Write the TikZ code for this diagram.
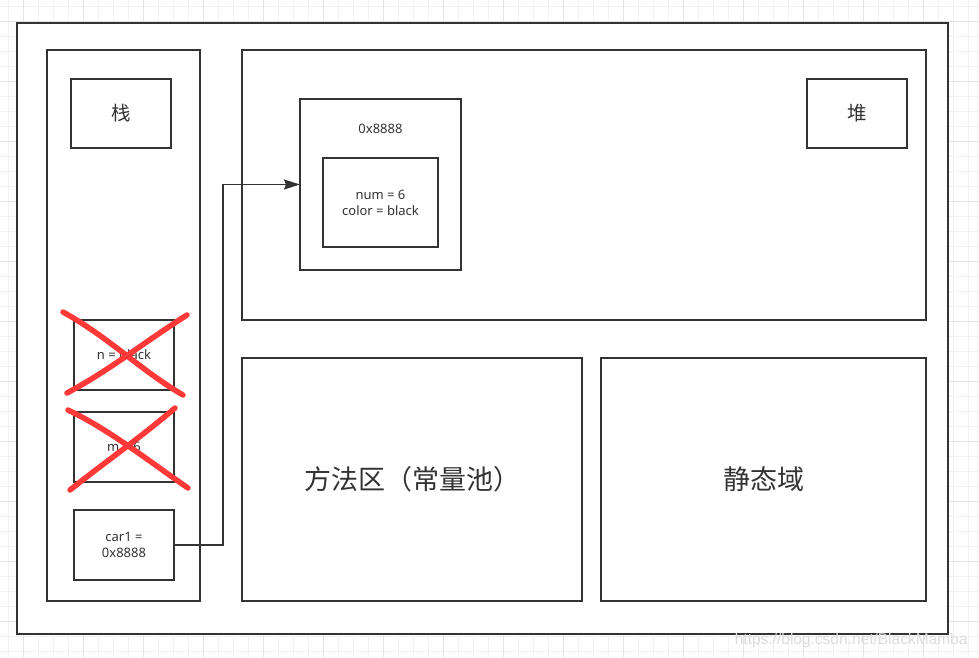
\documentclass[tikz,border=0pt]{standalone}
\usepackage{fontspec}
\setmainfont{Noto Sans CJK SC}
\newfontfamily\latinsans{Noto Sans}
\usetikzlibrary{arrows.meta}
\definecolor{edge}{HTML}{333333}
\definecolor{txt}{HTML}{333333}
\definecolor{crossred}{HTML}{FF3838}
\definecolor{gridminor}{HTML}{F2F2F2}
\definecolor{gridmajor}{HTML}{E4E4E4}
\definecolor{wm}{HTML}{DCDCDC}
\tikzset{
  box/.style={draw=edge, line width=1.8pt, fill=white, inner sep=0pt, outer sep=0pt, text=txt, align=center},
  small/.style={font=\latinsans\fontsize{13}{16}\selectfont, text=txt, align=center},
  mid/.style={font=\fontsize{19.5}{22}\selectfont, text=txt},
  big/.style={font=\fontsize{27}{30}\selectfont, text=txt},
  conn/.style={draw=edge, line width=1.8pt, -{Stealth[length=16pt,width=10pt,inset=2pt]}},
  xmark/.style={draw=crossred, line width=5.5pt, line cap=round},
}
\begin{document}
\begin{tikzpicture}[x=1pt,y=-1pt]
\useasboundingbox (0,0) rectangle (979,657);
\fill[white] (0,0) rectangle (979,657);
% grid
\foreach \i in {0,...,65} {\draw[gridminor, line width=0.8pt] ({8.3+15*\i},0) -- ({8.3+15*\i},657);}
\foreach \i in {0,...,43} {\draw[gridminor, line width=0.8pt] (0,{6.7+15*\i}) -- (979,{6.7+15*\i});}
\foreach \i in {0,...,16} {\draw[gridmajor, line width=0.8pt] ({23.3+60*\i},0) -- ({23.3+60*\i},657);}
\foreach \i in {0,...,10} {\draw[gridmajor, line width=0.8pt] (0,{21.7+60*\i}) -- (979,{21.7+60*\i});}
% outer frame
\node[box, minimum width=931pt, minimum height=611pt] (outer) at (482.5,328.5) {};
% stack
\node[box, minimum width=153pt, minimum height=551pt] (stack) at (123.5,325.5) {};
\node[box, mid, minimum width=100pt, minimum height=69pt] (zhan) at (121,113.5) {栈};
\node[box, small, minimum width=100pt, minimum height=70pt] (nblack) at (124,355) {n = black};
\node[box, small, minimum width=100pt, minimum height=70pt] (msix) at (124,447) {m = 6};
\node[box, small, minimum width=100pt, minimum height=70pt] (car1) at (124,545) {car1 =\\0x8888};
% heap
\node[box, minimum width=684pt, minimum height=270pt] (heap) at (584,185) {};
\node[box, minimum width=161pt, minimum height=171pt] (obj) at (380.5,184.5) {};
\node[small] (addr) at (380.5,129) {0x8888};
\node[box, small, minimum width=115pt, minimum height=89pt] (fields) at (380.5,202.5) {num = 6\\color = black};
\node[box, mid, minimum width=100pt, minimum height=69pt] (dui) at (857,113.5) {堆};
% method area and static
\node[box, big, minimum width=340pt, minimum height=243pt] (method) at (412,479.5) {方法区（常量池）};
\node[box, big, minimum width=325pt, minimum height=243pt] (static) at (763.5,479.5) {静态域};
% connector
\coordinate (bend) at (223,545);
\draw[conn] (car1.east) -- (bend) |- (obj.west);
% red crosses
\draw[xmark] (63,312) .. controls (110,338) and (140,370) .. (183,395);
\draw[xmark] (187,315) .. controls (140,345) and (110,370) .. (67,393);
\draw[xmark] (68,410) .. controls (110,430) and (150,462) .. (188,488);
\draw[xmark] (175,408) .. controls (140,438) and (105,462) .. (70,490);
% watermark
\node[font=\fontspec{Liberation Sans}\fontsize{15.5}{18}\selectfont, text=wm, anchor=base east] (wmark) at (971,644) {https://blog.csdn.net/BlackMamba};
\end{tikzpicture}
\end{document}
